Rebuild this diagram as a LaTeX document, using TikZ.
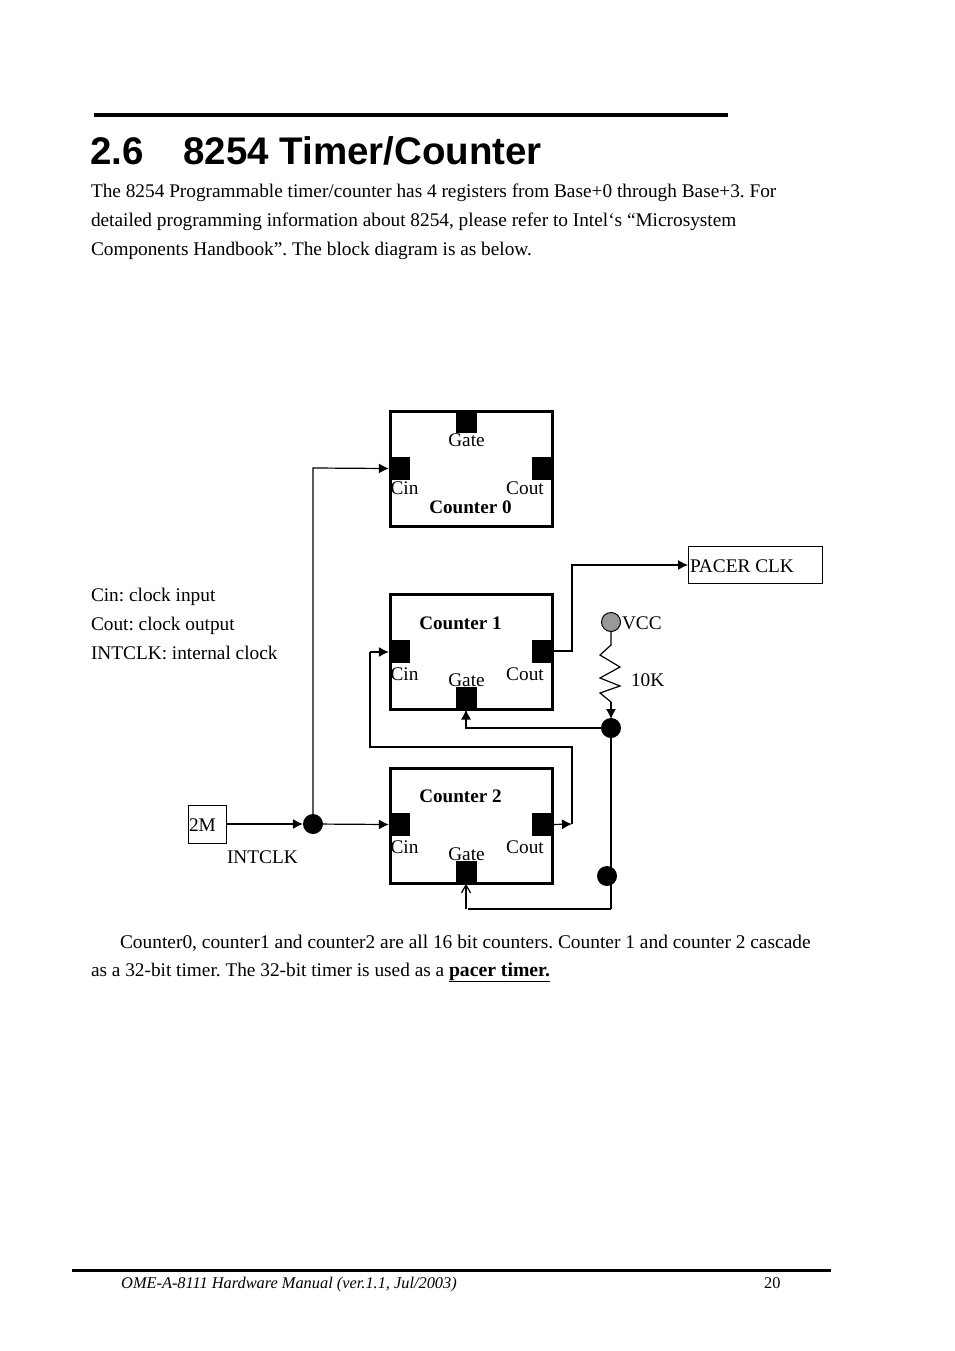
\documentclass[tikz,border=0pt]{standalone}
\usepackage{fontspec}
\setmainfont{Liberation Serif}
\newfontfamily\headfont{Liberation Sans}
\usetikzlibrary{arrows.meta,calc}
\frenchspacing
\newcommand{\bodysize}{\fontsize{19.3}{23}\selectfont}
\tikzset{
  x=1pt,y=-1pt,
  txt/.style={anchor=base west,inner sep=0pt,outer sep=0pt,font=\bodysize},
  lab/.style={anchor=base,inner sep=0pt,outer sep=0pt,font=\fontsize{19.3}{22}\selectfont},
  blab/.style={lab,font=\fontsize{19.1}{22}\selectfont\bfseries},
  counterbox/.style={draw,line width=3pt,outer sep=0pt,minimum width=162pt,minimum height=115pt,inner sep=0pt,anchor=north west},
  pin/.style={fill=black,draw=none,inner sep=0pt,minimum width=21pt,minimum height=23pt},
  termbox/.style={draw,line width=1pt,inner sep=0pt,outer sep=0pt,anchor=north west},
  dot/.style={circle,fill=black,draw=none,inner sep=0pt,minimum size=20pt},
  wire/.style={line width=1.2pt},
  arr/.style={wire,-{Latex[length=10pt,width=10pt]}},
  openarr/.style={wire,-{Straight Barb[length=8pt,width=9pt]}}
}
\begin{document}
\begin{tikzpicture}
\useasboundingbox (0,0) rectangle (954,1351);
\fill[white] (0,0) rectangle (954,1351);
% header
\coordinate (hl) at (94,115); \coordinate (hr) at (728,115);
\draw[line width=4pt] (hl) -- (hr);
\node[anchor=base west,inner sep=0pt,font=\headfont\fontsize{38.5}{44}\selectfont\bfseries] (t1) at (90,165) {2.6};
\node[anchor=base west,inner sep=0pt,font=\headfont\fontsize{38.5}{44}\selectfont\bfseries] (t2) at (183,165) {8254 Timer/Counter};
\node[txt] (p1) at (91,197) {The 8254 Programmable timer/counter has 4 registers from Base+0 through Base+3. For};
\node[txt] (p2) at (91,226) {detailed programming information about 8254, please refer to Intel‘s “Microsystem};
\node[txt] (p3) at (91,255) {Components Handbook”. The block diagram is as below.};
% counter boxes
\node[counterbox] (c0) at (390.5,411.5) {};
\node[counterbox] (c1) at (390.5,594.5) {};
\node[counterbox] (c2) at (390.5,768.5) {};
% pins
\node[pin] (g0) at (466,421.5) {};
\node[pin] (in0) at (399.5,468.5) {};
\node[pin] (out0) at (542.5,468.5) {};
\node[pin] (in1) at (399.5,651) {};
\node[pin] (out1) at (542.5,651) {};
\node[pin] (g1) at (466,698.5) {};
\node[pin] (in2) at (399.5,824.5) {};
\node[pin] (out2) at (542.5,824.5) {};
\node[pin] (g2) at (466,872) {};
% counter labels
\node[lab] (lg0) at (466.5,446) {Gate};
\node[lab] (lci0) at (404.5,494) {Cin};
\node[lab] (lco0) at (525,494) {Cout};
\node[blab] (lc0) at (470.5,513) {Counter 0};
\node[blab] (lc1) at (460.5,629) {Counter 1};
\node[lab] (lci1) at (404.5,680) {Cin};
\node[lab] (lg1) at (466.5,686) {Gate};
\node[lab] (lco1) at (525,680) {Cout};
\node[blab] (lc2) at (460.5,802) {Counter 2};
\node[lab] (lci2) at (404.5,853) {Cin};
\node[lab] (lg2) at (466.5,860) {Gate};
\node[lab] (lco2) at (525,853) {Cout};
% terminals
\node[termbox,minimum width=38pt,minimum height=38pt] (m2) at (188,805) {};
\node[lab,anchor=base west] (l2m) at (189,831) {2M};
\node[lab,anchor=base west] (lint) at (227,863) {INTCLK};
\node[termbox,minimum width=134pt,minimum height=37pt] (pacer) at (688,546) {};
\node[lab,anchor=base west] (lpacer) at (690,572) {PACER CLK};
% junctions
\node[dot] (j1) at (313,824) {};
\node[dot] (j2) at (611,728) {};
\node[dot] (j3) at (607,876) {};
\node[circle,fill=black!40,draw=black,line width=1pt,inner sep=0pt,minimum size=19pt] (vcc) at (611,622) {};
\node[lab,anchor=base west] (lvcc) at (622,629) {VCC};
\node[lab,anchor=base west] (l10k) at (631,686) {10K};
% helper coordinates
\coordinate (a0) at (313,468);
\coordinate (a1) at (572,651);
\coordinate (a2) at (572,565);
\coordinate (b0) at (572,824);
\coordinate (b1) at (572,747);
\coordinate (b2) at (370,747);
\coordinate (b3) at (370,652);
\coordinate (r2) at (611,645);
\coordinate (r3) at (611,702);
\coordinate (r4) at (611,719);
\coordinate (d0) at (466,728);
\coordinate (e0) at (611,909);
\coordinate (e2) at (466,909);
\coordinate (e1) at (468,909);
% wires
\draw[arr] (m2.east |- j1) -- (j1.west);
\draw[arr] (j1) -- (in2.west);
\draw[arr] (j1) -- (a0) -- (in0.west);
\draw[arr] (out1.east) -- (a1) -- (a2) -- (pacer.west |- a2);
\draw[arr] (out2.east) -- (b0);
\draw[wire] (b0) -- (b1) -- (b2) -- (b3);
\draw[arr] (b3) -- (in1.west |- b3);
\draw[wire] (vcc) -- (r2)
  -- (600,655) -- (620,667) -- (600,678) -- (620,686) -- (600,693) -- (r3);
\draw[arr] (r3) -- (r4);
\draw[arr] (j2) -- (d0) -- (g1.south |- c1.south);
\draw[wire] (j2) -- (e0);
\draw[wire] (e0) -- (e1);
\draw[openarr] (e2) -- (g2.south);
% side text
\node[txt] (s1) at (91,601) {Cin: clock input};
\node[txt] (s2) at (91,630) {Cout: clock output};
\node[txt] (s3) at (91,659) {INTCLK: internal clock};
% lower paragraph
\node[txt,font=\fontsize{19.4}{23}\selectfont] (q1) at (120,948) {Counter0, counter1 and counter2 are all 16 bit counters. Counter 1 and counter 2 cascade};
\node[txt] (q2) at (91,976) {as a 32-bit timer. The 32-bit timer is used as a \textbf{\fontsize{19.7}{23}\selectfont\underline{pacer timer.}}};
% footer
\coordinate (fl) at (72,1270); \coordinate (fr) at (831,1270);
\draw[line width=3pt] (fl) -- (fr);
\node[anchor=base west,inner sep=0pt,font=\fontsize{16.35}{20}\selectfont\itshape] (f1) at (121,1288) {OME-A-8111 Hardware Manual (ver.1.1, Jul/2003)};
\node[anchor=base west,inner sep=0pt,font=\fontsize{16.3}{20}\selectfont] (f2) at (764,1288) {20};
\end{tikzpicture}
\end{document}
